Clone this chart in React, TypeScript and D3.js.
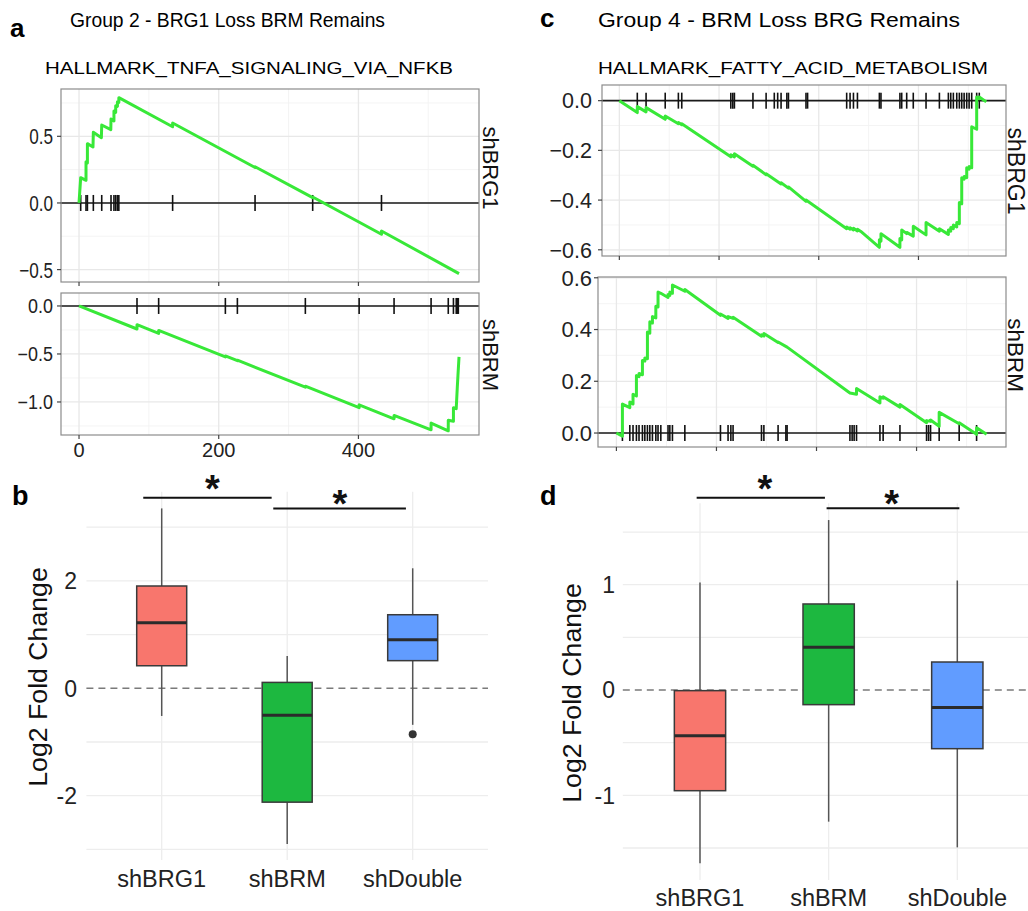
import React from "react";
import * as d3 from "d3";

type Pt = [number, number];

const FONT = "Liberation Sans, Arial, Helvetica, sans-serif";
const ES_GREEN = "#38E838";

// ---- GSEA running enrichment score, HALLMARK_TNFA_SIGNALING_VIA_NFKB ----
const tnfaBrg1Hits = [2.4, 10, 12, 20.5, 32.5, 45.8, 50, 52.5, 55, 57, 134, 252, 334.5, 433];
const tnfaBrg1Es: Pt[] = [
  [0, 0], [2.4, 0.19], [10, 0.17], [10, 0.31], [12, 0.3], [12, 0.445], [20, 0.42], [20.5, 0.53],
  [32, 0.49], [32.5, 0.585], [45.5, 0.55], [45.8, 0.63], [50, 0.615], [50, 0.69], [52.5, 0.68],
  [52.5, 0.73], [55, 0.725], [55, 0.76], [57, 0.755], [57, 0.79], [134, 0.572], [134, 0.6],
  [252, 0.266], [252, 0.272], [334.5, 0.04], [334.5, 0.045], [433, -0.235], [433, -0.21], [544, -0.53],
];
const tnfaBrmHits = [83, 114, 209.5, 226.7, 324, 401, 451, 504, 528.6, 536, 540, 541.5, 543];
const tnfaBrmEs: Pt[] = [
  [0, 0], [83, -0.24], [83, -0.195], [114, -0.285], [114, -0.255], [209.5, -0.53], [209.5, -0.52],
  [226.7, -0.57], [226.7, -0.565], [324, -0.845], [324, -0.835], [401, -1.06], [401, -1.03],
  [451, -1.175], [451, -1.14], [504, -1.29], [504, -1.22], [528.6, -1.3], [528.6, -1.19],
  [536, -1.2], [536, -1.06], [540, -1.07], [541.5, -0.85], [542.5, -0.72], [544, -0.53],
];

// ---- HALLMARK_FATTY_ACID_METABOLISM ----
const fattyBrg1Hits = [
  9, 13.4, 23, 29.6, 31.3, 55.9, 56.9, 57.7, 67, 73.6, 77.7, 79.4, 81.1, 84, 84.8, 93.6, 94.4,
  114, 115.7, 117.4, 119.4, 130.4, 131.2, 140.7, 141.6, 144.1, 147.4, 153.8, 160.5, 165, 166.2,
  167.5, 169.2, 170.5, 171.7, 172.9, 174.2, 175.4, 176.7, 179.2, 180.5,
];
const fattyBrg1Es: Pt[] = [
  [0, 0], [9, -0.048], [9, -0.024], [13.4, -0.045], [13.4, -0.028], [23, -0.075], [23, -0.062],
  [29.6, -0.093], [29.6, -0.088], [31.3, -0.097], [31.3, -0.093], [55.9, -0.226], [55.9, -0.218],
  [57.7, -0.226], [57.7, -0.214], [67, -0.264], [67, -0.26], [73.6, -0.298], [73.6, -0.294],
  [81.1, -0.335], [81.1, -0.33], [84.8, -0.352], [84.8, -0.347], [93.6, -0.405], [93.6, -0.4],
  [114, -0.515], [114, -0.508], [115.7, -0.517], [115.7, -0.511], [117.4, -0.52], [117.4, -0.513],
  [119.4, -0.524], [119.4, -0.517], [121.1, -0.526], [130.4, -0.59], [130.4, -0.56],
  [131.2, -0.565], [131.2, -0.535], [140.7, -0.59], [140.7, -0.555], [141.6, -0.56],
  [141.6, -0.52], [144.1, -0.535], [144.1, -0.53], [147.4, -0.545], [147.4, -0.505],
  [153.8, -0.54], [153.8, -0.49], [160.5, -0.525], [160.5, -0.515], [165, -0.538], [165, -0.52],
  [166.2, -0.525], [166.2, -0.51], [167.5, -0.515], [167.5, -0.5], [169.2, -0.508], [169.2, -0.49],
  [170.5, -0.495], [170.5, -0.41], [171.7, -0.415], [171.7, -0.31], [172.9, -0.316], [172.9, -0.305],
  [174.2, -0.31], [174.2, -0.27], [175.4, -0.276], [175.4, -0.265], [176.7, -0.27], [176.7, -0.105],
  [179.2, -0.115], [179.2, 0.015], [180.5, 0.008], [180.5, 0.015], [184, -0.005],
];
const fattyBrmHits = [
  3, 6.7, 8.3, 10, 11.3, 13, 14.2, 15.5, 16.7, 18, 19.7, 20.8, 22.2, 25.8, 26.7, 28, 34.2, 52,
  55.8, 57.2, 58.3, 72.5, 73.7, 80.8, 84.7, 85.3, 116.7, 117.8, 118.8, 120, 131.7, 133.3, 141.7,
  155, 156, 157, 161.3, 171.3, 180,
];
const fattyBrmEs: Pt[] = [
  [0, 0], [3, -0.012], [3, 0.112], [6.7, 0.098], [6.7, 0.12], [8.3, 0.112], [8.3, 0.15], [10, 0.143],
  [10, 0.222], [11.3, 0.218], [11.3, 0.23], [13, 0.225], [13, 0.28], [14.2, 0.278], [14.2, 0.29],
  [15.5, 0.287], [15.5, 0.39], [16.7, 0.386], [16.7, 0.43], [18, 0.425], [18, 0.45], [19.7, 0.445],
  [19.7, 0.49], [20.8, 0.487], [20.8, 0.545], [22.2, 0.54], [25.8, 0.524], [25.8, 0.535],
  [26.7, 0.532], [26.7, 0.545], [28, 0.54], [28, 0.572], [34.2, 0.548], [34.2, 0.555], [52, 0.455],
  [52, 0.46], [55.8, 0.443], [55.8, 0.45], [58.3, 0.443], [58.3, 0.447], [72.5, 0.374], [72.5, 0.38],
  [73.7, 0.375], [73.7, 0.385], [80.8, 0.35], [80.8, 0.352], [85.3, 0.332], [116.7, 0.155],
  [120, 0.15], [120, 0.172], [131.7, 0.116], [131.7, 0.14], [133.3, 0.135], [133.3, 0.14],
  [141.7, 0.1], [141.7, 0.11], [155, 0.04], [155, 0.048], [157, 0.045], [157, 0.05], [161.3, 0.026],
  [161.3, 0.08], [171.3, 0.036], [171.3, 0.04], [180, -0.005], [180, 0.02], [185, -0.005],
];

// ---- box plots: [lower whisker, Q1, median, Q3, upper whisker] ----
const groups = ["shBRG1", "shBRM", "shDouble"];
const groupColors = ["#F8766D", "#1DB840", "#619CFF"];
const tnfaStats = [
  [-0.515, 0.42, 1.22, 1.905, 3.35],
  [-2.9, -2.12, -0.5, 0.11, 0.6],
  [-0.68, 0.515, 0.905, 1.37, 2.235],
];
const tnfaOutliers: [number, number][] = [[2, -0.857]];
const fattyStats = [
  [-1.646, -0.956, -0.434, -0.006, 1.02],
  [-1.25, -0.139, 0.405, 0.817, 1.614],
  [-1.494, -0.557, -0.165, 0.266, 1.04],
];
// significance bars: [from (group index), to (group index), y]
const tnfaSigBars = [[-0.147, 0.876, 3.55], [0.889, 1.946, 3.35]];
const tnfaSigStars = [[0.403, 3.88], [1.42, 3.6]];
const fattySigBars = [[-0.026, 0.971, 1.826], [0.984, 2.016, 1.726]];
const fattySigStars = [[0.505, 1.995], [1.49, 1.852]];

const tnfaXTicks = [0, 200, 400];
const tnfaXMinor = [100, 300, 500];
const fattyXTicks = [0, 50, 100, 150];
const fattyXMinor = [25, 75, 125, 175];

interface GseaProps {
  box: [number, number, number, number];
  xDomain: [number, number];
  yDomain: [number, number];
  xMajor: number[];
  xMinor: number[];
  yMajor: number[];
  yMinor: number[];
  es: Pt[];
  hits: number[];
  strip: string;
  stripAt: [number, number];
  stripSize: number;
  labelRight: number;
  labelSize: number;
  labelScale: number;
  xLabels?: boolean;
}

function GseaPanel(p: GseaProps) {
  const [l, t, r, b] = p.box;
  const x = d3.scaleLinear().domain(p.xDomain).range([l, r]);
  const y = d3.scaleLinear().domain(p.yDomain).range([b, t]);
  const line = d3.line<Pt>().x((d) => x(d[0])).y((d) => y(d[1]));
  const y0 = y(0);
  const fmt = d3.format(".1f");
  return (
    <g>
      <rect x={l} y={t} width={r - l} height={b - t} fill="#fff" />
      {p.yMinor.filter((v) => y(v) > t && y(v) < b).map((v) => (
        <line key={"ymi" + v} x1={l} x2={r} y1={y(v)} y2={y(v)} stroke="#F3F3F3" strokeWidth={0.9} />
      ))}
      {p.xMinor.map((v) => (
        <line key={"xmi" + v} x1={x(v)} x2={x(v)} y1={t} y2={b} stroke="#F3F3F3" strokeWidth={0.9} />
      ))}
      {p.yMajor.map((v) => (
        <line key={"yma" + v} x1={l} x2={r} y1={y(v)} y2={y(v)} stroke="#E8E8E8" strokeWidth={1.3} />
      ))}
      {p.xMajor.map((v) => (
        <line key={"xma" + v} x1={x(v)} x2={x(v)} y1={t} y2={b} stroke="#E8E8E8" strokeWidth={1.3} />
      ))}
      <line x1={l} x2={r} y1={y0} y2={y0} stroke="#1a1a1a" strokeWidth={1.6} />
      {p.hits.map((h, i) => (
        <line key={"h" + i} x1={x(h)} x2={x(h)} y1={y0 - 8} y2={y0 + 8} stroke="#111" strokeWidth={1.6} />
      ))}
      <path d={line(p.es) ?? ""} fill="none" stroke={ES_GREEN} strokeWidth={3} strokeLinejoin="round" />
      <rect x={l} y={t} width={r - l} height={b - t} fill="none" stroke="#8C8C8C" strokeWidth={1.2} />
      {p.yMajor.map((v) => (
        <g key={"yt" + v}>
          <line x1={l - 4} x2={l} y1={y(v)} y2={y(v)} stroke="#444" strokeWidth={1.2} />
          <text
            transform={`translate(${p.labelRight},${y(v)}) scale(${p.labelScale},1)`}
            dy="0.36em"
            textAnchor="end"
            fontSize={p.labelSize}
            fill="#222"
          >
            {fmt(v)}
          </text>
        </g>
      ))}
      {p.xMajor.map((v) => (
        <g key={"xt" + v}>
          <line x1={x(v)} x2={x(v)} y1={b} y2={b + 4} stroke="#444" strokeWidth={1.2} />
          {p.xLabels && (
            <text x={x(v)} y={b + 22} textAnchor="middle" fontSize={20} fill="#222">
              {v}
            </text>
          )}
        </g>
      ))}
      <text transform={`translate(${p.stripAt[0]},${p.stripAt[1]}) rotate(90)`} textAnchor="middle" fontSize={p.stripSize} fill="#111">
        {p.strip}
      </text>
    </g>
  );
}

interface BoxProps {
  xRange: [number, number];
  yRange: [number, number];
  yDomain: [number, number];
  gridRight: number;
  stats: number[][];
  outliers: [number, number][];
  yGrid: number[];
  yTicks: number[];
  boxWidth: number;
  sigBars: number[][];
  sigStars: number[][];
  labelRight: number;
  catBaseline: number;
  title: [number, number];
}

function BoxPanel(p: BoxProps) {
  const x = d3.scalePoint<string>().domain(groups).range(p.xRange).padding(0.6);
  const y = d3.scaleLinear().domain(p.yDomain).range(p.yRange);
  const [bottom, top] = p.yRange;
  const step = x.step();
  const pos = (i: number) => (x(groups[0]) as number) + i * step;
  const hw = p.boxWidth / 2;
  return (
    <g>
      {p.yGrid.map((v) => (
        <line key={"g" + v} x1={p.xRange[0]} x2={p.gridRight} y1={y(v)} y2={y(v)} stroke="#EDEDED" strokeWidth={1.3} />
      ))}
      {groups.map((g) => (
        <line key={"v" + g} x1={x(g)} x2={x(g)} y1={top} y2={bottom} stroke="#EDEDED" strokeWidth={1.3} />
      ))}
      <line x1={p.xRange[0]} x2={p.gridRight} y1={y(0)} y2={y(0)} stroke="#7a7a7a" strokeWidth={1.5} strokeDasharray="7,5" />
      {p.stats.map((s, i) => {
        const cx = x(groups[i]) as number;
        return (
          <g key={groups[i]}>
            <line x1={cx} x2={cx} y1={y(s[4])} y2={y(s[3])} stroke="#555" strokeWidth={1.5} />
            <line x1={cx} x2={cx} y1={y(s[1])} y2={y(s[0])} stroke="#555" strokeWidth={1.5} />
            <rect x={cx - hw} y={y(s[3])} width={p.boxWidth} height={y(s[1]) - y(s[3])} fill={groupColors[i]} stroke="#3a3a3a" strokeWidth={1.5} />
            <line x1={cx - hw} x2={cx + hw} y1={y(s[2])} y2={y(s[2])} stroke="#2b2b2b" strokeWidth={3} />
          </g>
        );
      })}
      {p.outliers.map(([i, v]) => (
        <circle key={"o" + i + v} cx={x(groups[i])} cy={y(v)} r={4} fill="#333" />
      ))}
      {p.sigBars.map((s, i) => (
        <line key={"s" + i} x1={pos(s[0])} x2={pos(s[1])} y1={y(s[2])} y2={y(s[2])} stroke="#111" strokeWidth={2} />
      ))}
      {p.sigStars.map((s, i) => (
        <text key={"st" + i} x={pos(s[0])} y={y(s[1]) + 22} textAnchor="middle" fontSize={38} fontWeight="bold" fill="#111">
          *
        </text>
      ))}
      {p.yTicks.map((v) => (
        <text key={"yt" + v} x={p.labelRight} y={y(v)} dy="0.36em" textAnchor="end" fontSize={23} fill="#222">
          {v}
        </text>
      ))}
      {groups.map((g) => (
        <text key={"c" + g} x={x(g)} y={p.catBaseline} textAnchor="middle" fontSize={23.5} fill="#222">
          {g}
        </text>
      ))}
      <text transform={`translate(${p.title[0]},${p.title[1]}) rotate(-90)`} textAnchor="middle" fontSize={26.7} fill="#111">
        Log2 Fold Change
      </text>
    </g>
  );
}

export default function App() {
  return (
    <div style={{ position: "absolute", left: 0, top: 0 }}>
      <svg width={1028} height={911} style={{ display: "block", background: "#fff", fontFamily: FONT }}>
        {/* headings */}
        <text x={10} y={37} fontSize={26} fontWeight="bold">a</text>
        <text x={540} y={27} fontSize={26} fontWeight="bold">c</text>
        <text x={12} y={505} fontSize={27} fontWeight="bold">b</text>
        <text x={540} y={505} fontSize={27} fontWeight="bold">d</text>
        <text x={70} y={27} fontSize={21} textLength={315} lengthAdjust="spacingAndGlyphs">
          Group 2 - BRG1 Loss BRM Remains
        </text>
        <text x={598} y={27} fontSize={20.5} textLength={362} lengthAdjust="spacingAndGlyphs">
          Group 4 - BRM Loss BRG Remains
        </text>
        <text x={45} y={74} fontSize={17} textLength={408} lengthAdjust="spacingAndGlyphs">
          HALLMARK_TNFA_SIGNALING_VIA_NFKB
        </text>
        <text x={598} y={74} fontSize={17} textLength={390} lengthAdjust="spacingAndGlyphs">
          HALLMARK_FATTY_ACID_METABOLISM
        </text>

        <GseaPanel
          box={[61, 89, 479, 282]}
          xDomain={[-25.8, 572.6]}
          yDomain={[-0.593, 0.855]}
          xMajor={tnfaXTicks}
          xMinor={tnfaXMinor}
          yMajor={[-0.5, 0, 0.5]}
          yMinor={[-0.25, 0.25, 0.75]}
          es={tnfaBrg1Es}
          hits={tnfaBrg1Hits}
          strip="shBRG1"
          stripAt={[483, 168]}
          stripSize={22}
          labelRight={53}
          labelSize={22}
          labelScale={0.78}
        />
        <GseaPanel
          box={[61, 293, 479, 435]}
          xDomain={[-25.8, 572.6]}
          yDomain={[-1.344, 0.135]}
          xMajor={tnfaXTicks}
          xMinor={tnfaXMinor}
          yMajor={[-1, -0.5, 0]}
          yMinor={[-1.25, -0.75, -0.25]}
          es={tnfaBrmEs}
          hits={tnfaBrmHits}
          strip="shBRM"
          stripAt={[483, 355]}
          stripSize={22}
          labelRight={53}
          labelSize={19.5}
          labelScale={0.92}
          xLabels
        />
        <GseaPanel
          box={[602, 85, 1006, 256]}
          xDomain={[-8.7, 193.9]}
          yDomain={[-0.625, 0.063]}
          xMajor={fattyXTicks}
          xMinor={fattyXMinor}
          yMajor={[-0.6, -0.4, -0.2, 0]}
          yMinor={[-0.5, -0.3, -0.1]}
          es={fattyBrg1Es}
          hits={fattyBrg1Hits}
          strip="shBRG1"
          stripAt={[1008, 171]}
          stripSize={23}
          labelRight={592}
          labelSize={21.5}
          labelScale={1}
        />
        <GseaPanel
          box={[598, 277, 1006, 447]}
          xDomain={[-9.2, 194.7]}
          yDomain={[-0.054, 0.603]}
          xMajor={fattyXTicks}
          xMinor={fattyXMinor}
          yMajor={[0, 0.2, 0.4, 0.6]}
          yMinor={[0.1, 0.3, 0.5]}
          es={fattyBrmEs}
          hits={fattyBrmHits}
          strip="shBRM"
          stripAt={[1008, 355]}
          stripSize={22.5}
          labelRight={592}
          labelSize={22}
          labelScale={1}
        />

        <BoxPanel
          xRange={[86.4, 488]}
          yRange={[860, 491.7]}
          yDomain={[-3.197, 3.661]}
          gridRight={488}
          stats={tnfaStats}
          outliers={tnfaOutliers}
          yGrid={[-3, -2, -1, 1, 2, 3]}
          yTicks={[-2, 0, 2]}
          boxWidth={50}
          sigBars={tnfaSigBars}
          sigStars={tnfaSigStars}
          labelRight={77}
          catBaseline={887}
          title={[47, 677]}
        />
        <BoxPanel
          xRange={[622.8, 1034.5]}
          yRange={[880, 503.3]}
          yDomain={[-1.804, 1.773]}
          gridRight={1028}
          stats={fattyStats}
          outliers={[]}
          yGrid={[-1.5, -1, -0.5, 0.5, 1, 1.5]}
          yTicks={[-1, 0, 1]}
          boxWidth={51.3}
          sigBars={fattySigBars}
          sigStars={fattySigStars}
          labelRight={615}
          catBaseline={906}
          title={[581, 693]}
        />
      </svg>
    </div>
  );
}
